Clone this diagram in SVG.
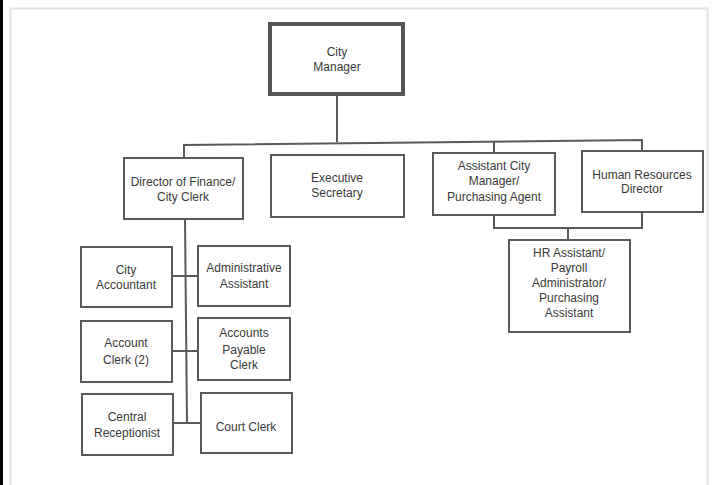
<svg xmlns="http://www.w3.org/2000/svg" width="713" height="485" viewBox="0 0 713 485">
<style>
.box{fill:#fff;stroke:#5a5a5a;stroke-width:2}
.thick{fill:#fff;stroke:#555;stroke-width:4}
.ln{fill:none;stroke:#5a5a5a;stroke-width:2}
text{font-family:"Liberation Sans",Arial,sans-serif;font-size:12px;fill:#3a3a3a;text-anchor:middle}
</style>
<rect x="0" y="0" width="713" height="485" fill="#fff"/>
<rect x="0" y="0" width="3" height="485" fill="#000"/>
<path d="M10.5 485 V8.5 H707.5 V485" fill="none" stroke="#e4e4e4" stroke-width="2"/>
<g id="connectors">
<path class="ln" d="M337 95 V142"/>
<path class="ln" d="M184 158 V145 L642 140 V151"/>
<path class="ln" d="M494 153 V141"/>
<path class="ln" d="M494 215 V228 H642 V212"/>
<path class="ln" d="M568 228 V240"/>
<path class="ln" d="M185 219 L187 423"/>
<path class="ln" d="M172 276 H198"/>
<path class="ln" d="M172 351 H198"/>
<path class="ln" d="M173 423 H201"/>
</g>
<g id="city-manager"><rect class="thick" x="270" y="24" width="133" height="70"/><text x="337" y="56">City</text><text x="337" y="71">Manager</text></g>
<g id="director-finance"><rect class="box" x="124" y="158" width="119" height="61"/><text x="183" y="186">Director of Finance/</text><text x="183" y="201">City Clerk</text></g>
<g id="executive-secretary"><rect class="box" x="271" y="155" width="133" height="62"/><text x="337" y="182">Executive</text><text x="337" y="197">Secretary</text></g>
<g id="assistant-city-manager"><rect class="box" x="433" y="153" width="122" height="62"/><text x="494" y="170">Assistant City</text><text x="494" y="185">Manager/</text><text x="494" y="201">Purchasing Agent</text></g>
<g id="hr-director"><rect class="box" x="582" y="151" width="121" height="61"/><text x="642" y="179">Human Resources</text><text x="642" y="193">Director</text></g>
<g id="hr-assistant"><rect class="box" x="509" y="240" width="121" height="92"/><text x="569" y="257">HR Assistant/</text><text x="569" y="272">Payroll</text><text x="569" y="287">Administrator/</text><text x="569" y="302">Purchasing</text><text x="569" y="317">Assistant</text></g>
<g id="city-accountant"><rect class="box" x="81" y="247" width="91" height="60"/><text x="126" y="274">City</text><text x="126" y="289">Accountant</text></g>
<g id="administrative-assistant"><rect class="box" x="198" y="246" width="92" height="60"/><text x="244" y="272">Administrative</text><text x="244" y="288">Assistant</text></g>
<g id="account-clerk"><rect class="box" x="81" y="321" width="91" height="61"/><text x="126" y="347">Account</text><text x="126" y="364">Clerk (2)</text></g>
<g id="accounts-payable-clerk"><rect class="box" x="198" y="318" width="92" height="62"/><text x="244" y="337">Accounts</text><text x="244" y="354">Payable</text><text x="244" y="369">Clerk</text></g>
<g id="central-receptionist"><rect class="box" x="82" y="394" width="91" height="61"/><text x="127" y="421">Central</text><text x="127" y="437">Receptionist</text></g>
<g id="court-clerk"><rect class="box" x="201" y="393" width="91" height="60"/><text x="246" y="431">Court Clerk</text></g>
</svg>
